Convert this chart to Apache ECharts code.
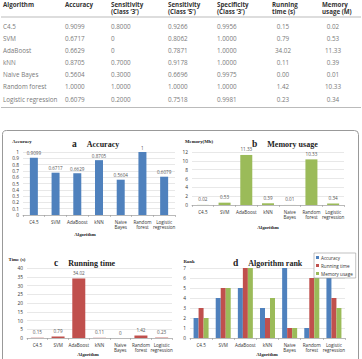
<!DOCTYPE html>
<html>
<head>
<meta charset="utf-8">
<script src="https://cdn.jsdelivr.net/npm/echarts@6/dist/echarts.min.js"></script>
<style>
  html, body { margin: 0; padding: 0; background: #fff; }
  #container { width: 362px; height: 359px; }
</style>
</head>
<body>
<div id="container"></div>
<script>
var algorithms = ['C4.5', 'SVM', 'AdaBoost', 'kNN', 'Naive Bayes', 'Random forest', 'Logistic regression'];
var categoryLabels = ['C4.5', 'SVM', 'AdaBoost', 'kNN', 'Naive\nBayes', 'Random\nforest', 'Logistic\nregression'];
var accuracy = [0.9099, 0.6717, 0.6629, 0.8705, 0.5604, 1.0000, 0.6079];
var sensitivity3 = [0.8000, 0, 0, 0.7000, 0.3000, 1.0000, 0.2000];
var sensitivity5 = [0.9266, 0.8062, 0.7871, 0.9178, 0.6696, 1.0000, 0.7518];
var specificity3 = [0.9956, 1.0000, 1.0000, 1.0000, 0.9975, 1.0000, 0.9981];
var runningTime = [0.15, 0.79, 34.02, 0.11, 0.00, 1.42, 0.23];
var memoryUsage = [0.02, 0.53, 11.33, 0.39, 0.01, 10.33, 0.34];
var rankAccuracy = [2, 4, 5, 3, 7, 1, 6];
var rankRunning = [3, 5, 7, 2, 1, 6, 4];
var rankMemory = [2, 5, 7, 4, 1, 6, 3];

var BLUE = '#4F81BD', RED = '#C0504D', GREEN = '#9BBB59';
var SERIF = '"Liberation Serif", "DejaVu Serif", serif';
var SANS = '"Open Sans", "Liberation Sans", sans-serif';

var dom = document.getElementById('container');
var myChart = echarts.init(dom, null, { renderer: 'svg' });

// ---- table drawn as graphic text ----
var colX = [3, 65, 111, 168, 217, 272, 322];
var headers = [
    ['Algorithm', ''], ['Accuracy', ''], ['Sensitivity', '(Class \u20183\u2019)'],
    ['Sensitivity', '(Class \u20185\u2019)'], ['Specificity', '(Class \u20183\u2019)'],
    ['Running', 'time (s)'], ['Memory', 'usage (M)']
];
function f4(v) { return v === 0 ? '0' : v.toFixed(4); }
var tableCols = [
    algorithms,
    accuracy.map(function (v) { return v.toFixed(4); }),
    sensitivity3.map(f4),
    sensitivity5.map(function (v) { return v.toFixed(4); }),
    specificity3.map(function (v) { return v.toFixed(4); }),
    runningTime.map(function (v) { return v.toFixed(2); }),
    memoryUsage.map(function (v) { return v.toFixed(2); })
];
var graphics = [];
headers.forEach(function (h, c) {
    h.forEach(function (t, k) {
        if (!t) return;
        graphics.push({ type: 'text', x: colX[c], y: 4 + k * 7.5, style: {
            text: t, fontSize: 6.2, fontWeight: 'bold', fontFamily: SANS, fill: '#333', verticalAlign: 'middle' } });
    });
});
tableCols.forEach(function (col, c) {
    col.forEach(function (t, r) {
        var centred = c >= 5;
        graphics.push({ type: 'text', x: centred ? colX[c] + 11 : colX[c], y: 26.7 + r * 12.05, style: {
            text: t, fontSize: 6.3, fontFamily: SANS, fill: '#7a7a7a', verticalAlign: 'middle', align: centred ? 'center' : 'left' } });
    });
});
graphics.push({ type: 'line', shape: { x1: 1, y1: 17, x2: 361, y2: 17 }, style: { stroke: '#aaa', lineWidth: 0.8 } });
graphics.push({ type: 'line', shape: { x1: 1, y1: 107.5, x2: 361, y2: 107.5 }, style: { stroke: '#aaa', lineWidth: 0.8 } });
// figure frame
graphics.push({ type: 'rect', shape: { x: 2.5, y: 130.5, width: 356, height: 250, r: 4 }, style: { fill: 'none', stroke: '#999', lineWidth: 1 } });

// axis titles
function small(x, y, t, align) {
    return { type: 'text', x: x, y: y, style: { text: t, fontSize: 4.8, fontWeight: 'bold', fontFamily: SERIF, fill: '#222', align: align || 'center', verticalAlign: 'middle' } };
}
graphics.push(small(22, 141, 'Accuracy'));
graphics.push(small(199, 141, 'Memory(Mb)'));
graphics.push(small(17, 259, 'Time (s)'));
graphics.push(small(189, 261, 'Rank'));
graphics.push(small(85, 234.5, 'Algorithm'));
graphics.push(small(268, 227.5, 'Algorithm'));
graphics.push(small(88, 354, 'Algorithm'));
graphics.push(small(267, 354, 'Algorithm'));

function makeTitle(letter, text, left, top) {
    return {
        text: '{l|' + letter + '}  {t|' + text + '}',
        left: left, top: top, padding: 0,
        textStyle: { rich: {
            l: { fontSize: 9.5, fontWeight: 'bold', fontFamily: SERIF, color: '#222' },
            t: { fontSize: 8, fontWeight: 'bold', fontFamily: SERIF, color: '#222' }
        } }
    };
}

var grids = [
    { left: 23, top: 152, width: 152, height: 63 },
    { left: 192, top: 152, width: 152, height: 53 },
    { left: 27, top: 268, width: 145, height: 70 },
    { left: 190, top: 268, width: 155, height: 70 }
];
var yRanges = [[0, 1, 0.1], [0, 12, 2], [0, 40, 5], [0, 7, 1]];

var option = {
    animation: false,
    title: [
        makeTitle('a', 'Accuracy', 72, 135),
        makeTitle('b', 'Memory usage', 252, 135),
        makeTitle('c', 'Running time', 54, 254),
        makeTitle('d', 'Algorithm rank', 233, 254)
    ],
    legend: {
        data: ['Accuracy', 'Running time', 'Memory usage'],
        orient: 'vertical', left: 314, top: 253,
        itemWidth: 3, itemHeight: 3, itemGap: 3,
        padding: [2, 3, 2, 2],
        borderColor: '#999', borderWidth: 0.6, backgroundColor: '#fff',
        textStyle: { fontSize: 4.6, fontFamily: SANS, color: '#333', padding: [0, 0, 0, -3] },
        icon: 'rect'
    },
    graphic: graphics,
    grid: grids,
    xAxis: grids.map(function (g, i) {
        return {
            type: 'category', gridIndex: i, data: categoryLabels,
            axisLine: { lineStyle: { color: '#999', width: 0.6 } },
            axisTick: { show: true, length: 2, lineStyle: { color: '#999', width: 0.6 } },
            axisLabel: { fontSize: 4.6, fontFamily: SANS, color: '#333', margin: 4, interval: 0, lineHeight: 5.5 }
        };
    }),
    yAxis: yRanges.map(function (r, i) {
        return {
            type: 'value', gridIndex: i, min: r[0], max: r[1], interval: r[2],
            axisLine: { show: false }, axisTick: { show: false },
            splitLine: { lineStyle: { color: '#d9d9d9', width: 0.6 } },
            axisLabel: { fontSize: 4.8, fontFamily: SANS, color: '#333', margin: 4 }
        };
    }),
    series: [
        { name: 'accuracyBar', type: 'bar', xAxisIndex: 0, yAxisIndex: 0, data: accuracy, barWidth: 8,
          itemStyle: { color: BLUE }, label: { show: true, position: 'top', distance: 2, fontSize: 4.6, color: '#555', fontFamily: SANS } },
        { name: 'memoryBar', type: 'bar', xAxisIndex: 1, yAxisIndex: 1, data: memoryUsage, barWidth: 12,
          itemStyle: { color: GREEN }, label: { show: true, position: 'top', distance: 3, fontSize: 4.6, color: '#555', fontFamily: SANS } },
        { name: 'timeBar', type: 'bar', xAxisIndex: 2, yAxisIndex: 2, data: runningTime, barWidth: 13,
          itemStyle: { color: RED }, label: { show: true, position: 'top', distance: 3, fontSize: 4.6, color: '#555', fontFamily: SANS } },
        { name: 'Accuracy', type: 'bar', xAxisIndex: 3, yAxisIndex: 3, data: rankAccuracy, barWidth: 5, barGap: 0, itemStyle: { color: BLUE } },
        { name: 'Running time', type: 'bar', xAxisIndex: 3, yAxisIndex: 3, data: rankRunning, barWidth: 5, barGap: 0, itemStyle: { color: RED } },
        { name: 'Memory usage', type: 'bar', xAxisIndex: 3, yAxisIndex: 3, data: rankMemory, barWidth: 5, barGap: 0, itemStyle: { color: GREEN } }
    ]
};

myChart.setOption(option);
</script>
</body>
</html>
